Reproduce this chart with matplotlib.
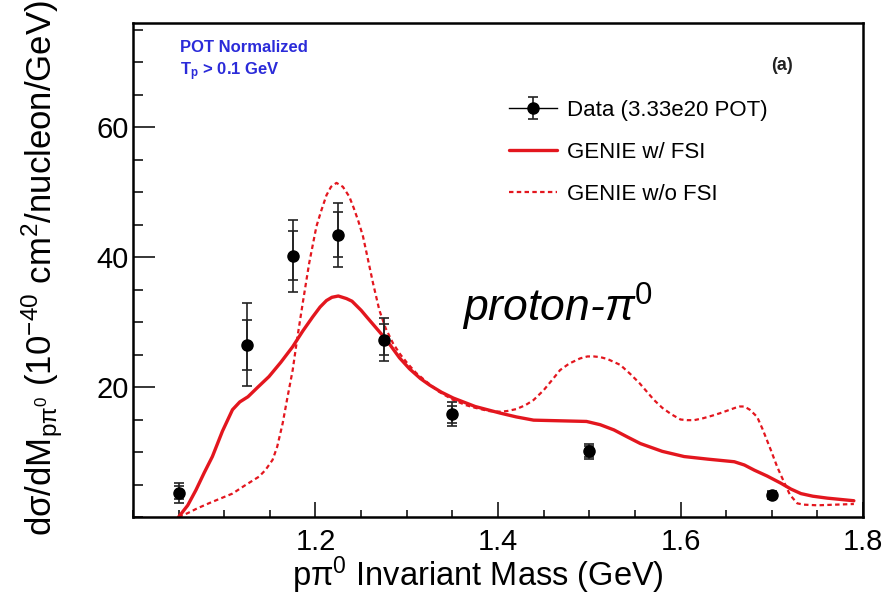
import matplotlib
matplotlib.use("Agg")
import matplotlib.pyplot as plt
from matplotlib.lines import Line2D
from matplotlib.ticker import MultipleLocator, FixedLocator

plt.rcParams['font.family'] = ['Liberation Sans', 'DejaVu Sans']
plt.rcParams['mathtext.fontset'] = 'custom'
plt.rcParams['mathtext.rm'] = 'Liberation Sans'
plt.rcParams['mathtext.it'] = 'Liberation Sans:italic'
plt.rcParams['mathtext.bf'] = 'Liberation Sans:bold'

# ---------------- data ----------------
data_x = [1.05, 1.125, 1.175, 1.225, 1.275, 1.35, 1.5, 1.7]
data_y = [3.7, 26.5, 40.2, 43.4, 27.3, 15.8, 10.1, 3.4]
err_total = [1.5, 6.35, 5.55, 4.9, 3.3, 1.85, 1.15, 0.6]
err_stat = [1.0, 3.85, 3.75, 3.45, 2.45, 1.3, 0.8, 0.4]

fsi_x = [1.05, 1.06, 1.069, 1.078, 1.087, 1.098, 1.109, 1.117, 1.126, 1.137,
         1.149, 1.162, 1.175, 1.186, 1.197, 1.205, 1.212, 1.218, 1.225, 1.234,
         1.24, 1.245, 1.25, 1.256, 1.267, 1.278, 1.292, 1.303, 1.315, 1.325,
         1.338, 1.351, 1.375, 1.402, 1.42, 1.439, 1.468, 1.497, 1.512, 1.527,
         1.542, 1.556, 1.58, 1.604, 1.63, 1.659, 1.67, 1.681, 1.695, 1.71,
         1.721, 1.732, 1.745, 1.761, 1.79]
fsi_y = [0.0, 1.8, 4.15, 6.8, 9.3, 13.2, 16.5, 17.7, 18.5, 20.0,
         21.6, 23.8, 26.2, 28.6, 30.8, 32.3, 33.3, 33.8, 34.0, 33.6,
         33.2, 32.5, 31.8, 30.8, 29.0, 27.2, 24.5, 22.8, 21.3, 20.3,
         19.2, 18.3, 17.0, 16.0, 15.4, 14.9, 14.8, 14.7, 14.2, 13.4,
         12.3, 11.3, 10.1, 9.3, 8.9, 8.5, 8.0, 7.2, 6.3, 5.2,
         4.3, 3.6, 3.2, 2.9, 2.5]

nofsi_x = [1.05, 1.06, 1.07, 1.083, 1.095, 1.109, 1.122, 1.138, 1.145, 1.153,
           1.158, 1.164, 1.169, 1.175, 1.18, 1.186, 1.193, 1.201, 1.206, 1.212,
           1.217, 1.223, 1.23, 1.237, 1.242, 1.247, 1.252, 1.256, 1.263, 1.27,
           1.277, 1.285, 1.293, 1.301, 1.31, 1.32, 1.335, 1.351, 1.365, 1.375,
           1.39, 1.402, 1.41, 1.42, 1.43, 1.439, 1.45, 1.46, 1.468, 1.478,
           1.49, 1.498, 1.505, 1.512, 1.52, 1.534, 1.545, 1.555, 1.571, 1.58,
           1.59, 1.6, 1.607, 1.615, 1.625, 1.635, 1.644, 1.652, 1.66, 1.665,
           1.67, 1.676, 1.684, 1.69, 1.699, 1.706, 1.714, 1.72, 1.728, 1.735,
           1.75, 1.79]
nofsi_y = [0.0, 0.6, 1.3, 2.1, 2.8, 3.6, 4.8, 6.2, 7.2, 8.8,
           10.8, 14.4, 18.2, 22.6, 27.5, 32.9, 39.0, 44.7, 47.0, 49.5,
           50.8, 51.4, 50.8, 49.3, 47.5, 45.5, 43.2, 40.6, 36.0, 31.8,
           29.0, 26.7, 25.0, 23.6, 22.2, 21.0, 19.3, 18.0, 17.2, 16.8,
           16.3, 16.2, 16.3, 16.6, 17.2, 18.0, 19.5, 21.2, 22.6, 23.6,
           24.4, 24.7, 24.7, 24.6, 24.3, 23.4, 22.0, 20.6, 18.0, 16.8,
           15.8, 15.0, 14.9, 14.9, 15.2, 15.6, 16.0, 16.4, 16.8, 17.0,
           17.0, 16.5, 15.4, 13.5, 10.3, 7.7, 5.2, 3.4, 2.1, 1.9,
           1.8, 2.0]

x_range = (1.0, 1.8)
y_range = (0, 76)
x_major = [1.2, 1.4, 1.6, 1.8]
y_major = [20, 40, 60]

RED = '#e3161e'

fig = plt.figure(figsize=(8.96, 6.05), dpi=100)
ax = fig.add_axes([133/896, 1-517/605, 730/896, 494/605])

# models
ax.hlines(0, x_range[0], fsi_x[0], color=RED, lw=0.8)
l_fsi, = ax.plot(fsi_x, fsi_y, color=RED, lw=2.4, solid_capstyle='round',
                 solid_joinstyle='round')
l_nofsi, = ax.plot(nofsi_x, nofsi_y, color=RED, lw=1.6, linestyle=(0, (2.0, 1.5)))

# data
ax.errorbar(data_x, data_y, yerr=err_total, fmt='none', ecolor='#222222',
            elinewidth=1.2, capsize=3.5, capthick=1.2)
eb = ax.errorbar(data_x, data_y, yerr=err_stat, fmt='o', color='black', ms=8,
                 ecolor='#222222', elinewidth=1.2, capsize=3.5, capthick=1.2)

ax.set_xlim(*x_range)
ax.set_ylim(*y_range)
ax.xaxis.set_major_locator(FixedLocator(x_major))
ax.xaxis.set_minor_locator(MultipleLocator(0.05))
ax.yaxis.set_major_locator(FixedLocator(y_major))
ax.yaxis.set_minor_locator(MultipleLocator(5))
ax.tick_params(axis='both', which='both', direction='in', top=False, right=False,
               width=1.1, labelsize=21)
ax.tick_params(axis='x', which='major', length=11, pad=8)
ax.tick_params(axis='x', which='minor', length=5)
ax.tick_params(axis='y', which='major', length=16, pad=3)
ax.tick_params(axis='y', which='minor', length=7)
for s in ax.spines.values():
    s.set_linewidth(1.8)

ax.set_xlabel('p\u03c0$^0$ Invariant Mass (GeV)', fontsize=23.5)
ax.xaxis.set_label_coords((478-133)/730, -(575-517)/494)
ax.xaxis.label.set_verticalalignment('center')
ax.set_ylabel('d\u03c3/dM$_{\\mathrm{p\\pi^{0}}}$ (10$^{-40}$ cm$^2$/nucleon/GeV)', fontsize=25)
ax.yaxis.set_label_coords(-(133-42)/730, (517-268)/494)
ax.yaxis.label.set_verticalalignment('center')

# annotations
ax.text((180-133)/730, (517-48)/494, 'POT Normalized', transform=ax.transAxes,
        color='#2b2bd9', fontsize=12, fontweight='bold', va='center', ha='left')
ax.text((180-133)/730, (517-72)/494, 'T$_\\mathbf{p}$ > 0.1 GeV', transform=ax.transAxes,
        color='#2b2bd9', fontsize=12, fontweight='bold', va='center', ha='left')
ax.text((782-133)/730, (517-66)/494, '(a)', transform=ax.transAxes,
        fontsize=13, fontweight='bold', va='center', ha='center', color='#222222')
ax.text((462-133)/730, (517-322)/494, 'proton-\u03c0$^0$', transform=ax.transAxes,
        fontsize=32, style='italic', va='baseline', ha='left', color='black')

data_handle = (Line2D([0], [0], color='black', lw=1.0), eb)
leg = ax.legend([data_handle, l_fsi, l_nofsi],
                ['Data (3.33e20 POT)', 'GENIE w/ FSI', 'GENIE w/o FSI'],
                loc='upper left', bbox_to_anchor=((509-133)/730, (517-100)/494),
                frameon=False, fontsize=16, handlelength=2.15, handletextpad=0.45,
                labelspacing=0.95, borderpad=0, borderaxespad=0)

fig.savefig('out.png', dpi=100)
